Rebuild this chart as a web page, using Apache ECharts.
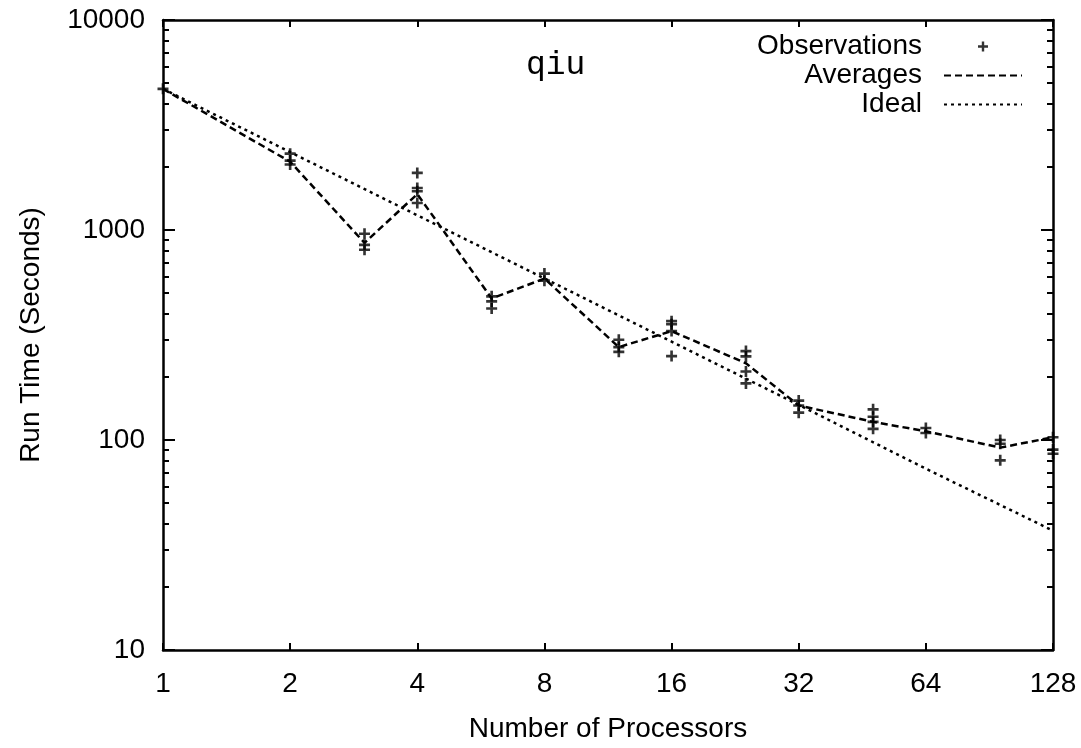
<!DOCTYPE html>
<html>
<head>
<meta charset="utf-8">
<script src="https://cdn.jsdelivr.net/npm/echarts@6/dist/echarts.min.js"></script>
<style>
  html, body { margin: 0; padding: 0; background: #fff; }
  #main { width: 1081px; height: 748px; }
</style>
</head>
<body>
<div id="main"></div>
<script>
// processor counts where runs were made
var procCounts = [1, 2, 3, 4, 6, 8, 12, 16, 24, 32, 48, 64, 96, 128];
// individual run times (seconds) for each processor count
var observations = [
    [4700],
    [2310, 2140, 2050],
    [960, 850, 805],
    [1870, 1585, 1530, 1345],
    [483, 457, 423],
    [620, 574],
    [300, 277, 263],
    [368, 356, 330, 251],
    [265, 250, 212, 186],
    [154, 146, 135],
    [140, 129, 122, 113],
    [114, 108],
    [100, 96, 80],
    [103, 90, 86]
];
// average run time per processor count
var averages = [4700, 2115, 868, 1483, 472, 587, 277, 330, 232, 146, 122, 110, 92, 103];
// ideal speedup line
var idealProcs = [1, 2, 4, 8, 16, 32, 64, 128];
var idealTimes = [4700, 2350, 1175, 588, 294, 147, 73, 37];
// tick labels
var xTickLabels = ['1', '2', '4', '8', '16', '32', '64', '128'];
var yTickLabels = ['10', '100', '1000', '10000'];

var FONT = 'Liberation Sans';
var plus = 'path://M3.8,0H6.2V3.8H10V6.2H6.2V10H3.8V6.2H0V3.8H3.8Z';

var obsData = [];
for (var i = 0; i < procCounts.length; i++) {
    for (var j = 0; j < observations[i].length; j++) {
        obsData.push([procCounts[i], observations[i][j]]);
    }
}
var avgData = procCounts.map(function (p, i) { return [p, averages[i]]; });
var idealData = idealProcs.map(function (p, i) { return [p, idealTimes[i]]; });

// minor tick positions on the y axis (in decades)
var minorY = [];
for (var d = 1; d < 4; d++) {
    for (var m = 2; m <= 9; m++) minorY.push(d + Math.log10(m));
}

var myChart = echarts.init(document.getElementById('main'));

var axisLine = { show: true, lineStyle: { color: '#000', width: 2.5 } };
var noSymbol = { color: 'rgba(0,0,0,0)', borderWidth: 0 };

var option = {
    animation: false,
    backgroundColor: '#fff',
    title: {
        text: 'qiu',
        left: 521,
        top: 44,
        textStyle: { fontFamily: 'Liberation Mono', fontSize: 33, fontWeight: 'normal', color: '#000' }
    },
    legend: {
        orient: 'vertical',
        align: 'right',
        right: 53,
        top: 27,
        itemWidth: 78,
        itemHeight: 10,
        itemGap: 0,
        selectedMode: false,
        data: [
            { name: 'Observations' },
            { name: 'Averages', itemStyle: noSymbol },
            { name: 'Ideal', itemStyle: noSymbol }
        ],
        textStyle: { fontFamily: FONT, fontSize: 28, color: '#000', lineHeight: 29, padding: [0, 17, 0, 0] }
    },
    grid: { left: 163, right: 28, top: 20, bottom: 94 },
    xAxis: [{
        type: 'log',
        logBase: 2,
        min: 1,
        max: 128,
        interval: 1,
        splitNumber: 7,
        position: 'bottom',
        name: 'Number of Processors',
        nameLocation: 'middle',
        nameGap: 65,
        nameTextStyle: { fontFamily: FONT, fontSize: 28, color: '#000' },
        axisLine: axisLine,
        axisTick: { inside: true, length: 7, lineStyle: { color: '#000', width: 2 } },
        axisLabel: {
            margin: 20,
            fontFamily: FONT, fontSize: 28, color: '#000',
            formatter: function (v) { return xTickLabels[Math.round(Math.log2(v))]; }
        },
        splitLine: { show: false }
    }, {
        type: 'log',
        logBase: 2,
        min: 1,
        max: 128,
        interval: 1,
        splitNumber: 7,
        position: 'top',
        axisLine: axisLine,
        axisTick: { inside: true, length: 7, lineStyle: { color: '#000', width: 2 } },
        axisLabel: { show: false },
        splitLine: { show: false }
    }],
    yAxis: [{
        type: 'log',
        logBase: 10,
        min: 10,
        max: 10000,
        interval: 1,
        splitNumber: 3,
        position: 'left',
        name: 'Run Time (Seconds)',
        nameLocation: 'middle',
        nameGap: 118,
        nameTextStyle: { fontFamily: FONT, fontSize: 28, color: '#000' },
        axisLine: axisLine,
        axisTick: { inside: true, length: 12, lineStyle: { color: '#000', width: 2 } },
        axisLabel: {
            margin: 18,
            fontFamily: FONT, fontSize: 28, color: '#000',
            formatter: function (v) { return yTickLabels[Math.round(Math.log10(v)) - 1]; }
        },
        splitLine: { show: false }
    }, {
        type: 'log',
        logBase: 10,
        min: 10,
        max: 10000,
        interval: 1,
        splitNumber: 3,
        position: 'right',
        axisLine: axisLine,
        axisTick: { inside: true, length: 12, lineStyle: { color: '#000', width: 2 } },
        axisLabel: { show: false },
        splitLine: { show: false }
    }, {
        type: 'value',
        min: 1,
        max: 4,
        position: 'left',
        axisLine: { show: false },
        axisTick: { inside: true, length: 6, customValues: minorY, lineStyle: { color: '#000', width: 2 } },
        axisLabel: { show: false },
        splitLine: { show: false }
    }, {
        type: 'value',
        min: 1,
        max: 4,
        position: 'right',
        axisLine: { show: false },
        axisTick: { inside: true, length: 6, customValues: minorY, lineStyle: { color: '#000', width: 2 } },
        axisLabel: { show: false },
        splitLine: { show: false }
    }],
    series: [{
        name: 'Observations',
        type: 'scatter',
        symbol: plus,
        symbolSize: 11,
        symbolKeepAspect: true,
        itemStyle: { color: '#000' },
        data: obsData
    }, {
        name: 'Averages',
        type: 'line',
        symbol: 'none',
        itemStyle: { color: '#000' },
        lineStyle: { color: '#000', width: 2.5, type: [7, 4] },
        data: avgData
    }, {
        name: 'Ideal',
        type: 'line',
        symbol: 'none',
        itemStyle: { color: '#000' },
        lineStyle: { color: '#000', width: 2.5, type: [3, 4] },
        data: idealData
    }]
};
myChart.setOption(option);
</script>
</body>
</html>
